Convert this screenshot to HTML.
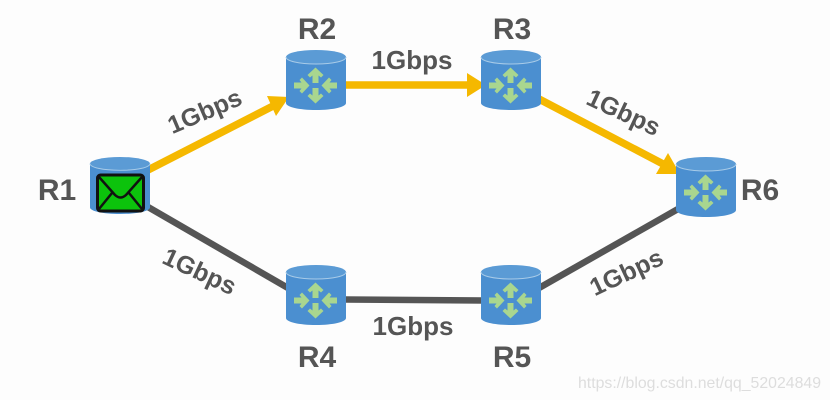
<!DOCTYPE html>
<html><head><meta charset="utf-8"><style>
html,body{margin:0;padding:0;background:#fdfdfd}
svg{display:block}
text{font-family:"Liberation Sans",sans-serif;font-weight:bold;fill:#555}
.l{font-size:26px}
.r{font-size:25px}
.n{font-size:30px}
</style></head><body>
<svg width="830" height="400" viewBox="0 0 830 400" xmlns="http://www.w3.org/2000/svg">
<defs>
<g id="ar"><path d="M-3 0V-7.500L-5.500-5.500-8-8 0-15.500 8-8 5.500-5.500 3-7.500V0Z" fill="#a9d68f"/></g>
<g id="r">
<path d="M0 7V53C0 57 13 60 30 60S60 57 60 53V7Z" fill="#4b8fd0"/>
<ellipse cx="30" cy="7" rx="30" ry="7" fill="#5b9bd5"/>
<path d="M0 7C0 11 13 14 30 14S60 11 60 7" fill="none" stroke="#a8cbe8" stroke-width="1"/>
<use href="#ar" transform="translate(29.500 33)"/>
<use href="#ar" transform="translate(29.500 38) rotate(180)"/>
<use href="#ar" transform="translate(8 35.500) rotate(90)"/>
<use href="#ar" transform="translate(51 35.500) rotate(-90)"/>
</g>
</defs>
<rect width="830" height="400" fill="#fdfdfd"/>
<g stroke="#555" stroke-width="6.500" fill="none">
<path d="M148 207L288 288"/><path d="M345 299.500L483 300.500"/><path d="M539 288L678 209"/>
</g>
<g stroke="#f5b800" stroke-width="7.500" fill="none">
<path d="M148 170L275 105"/><path d="M344 85L470 85"/><path d="M539 99L665 165"/>
</g>
<g fill="#f5b800">
<path d="M289 97L267 96 276 116Z"/><path d="M486 85L467 73V97Z"/><path d="M680 174L668 153 656 174Z"/>
</g>
<use href="#r" transform="translate(90 157) scale(1 .95)"/>
<use href="#r" x="286" y="50"/>
<use href="#r" x="481" y="50"/>
<use href="#r" x="676" y="157"/>
<use href="#r" x="286" y="265"/>
<use href="#r" x="481" y="265"/>
<rect x="97.500" y="175" width="46" height="36" rx="3" fill="#0cc30c" stroke="#111" stroke-width="3"/>
<path d="M99 177L115 195Q120.500 200 126 195L142 177M99 209L112 193M142 209L129 193" fill="none" stroke="#111" stroke-width="2.500"/>
<text class="n" x="317" y="39" text-anchor="middle">R2</text>
<text class="n" x="512" y="39" text-anchor="middle">R3</text>
<text class="n" x="57" y="200" text-anchor="middle">R1</text>
<text class="n" x="760" y="200" text-anchor="middle">R6</text>
<text class="n" x="317" y="367" text-anchor="middle">R4</text>
<text class="n" x="512" y="367" text-anchor="middle">R5</text>
<text class="l" x="412" y="69" text-anchor="middle">1Gbps</text>
<text class="l" x="413" y="335" text-anchor="middle">1Gbps</text>
<text class="r" transform="translate(208 119) rotate(-23)" text-anchor="middle">1Gbps</text>
<text class="r" transform="translate(620 120) rotate(25)" text-anchor="middle">1Gbps</text>
<text class="r" transform="translate(196 279) rotate(25)" text-anchor="middle">1Gbps</text>
<text class="r" transform="translate(630 280) rotate(-25)" text-anchor="middle">1Gbps</text>
<text x="578" y="388" textLength="243" lengthAdjust="spacingAndGlyphs" style="font-weight:normal;font-size:16px;fill:#ddd">https://blog.csdn.net/qq_52024849</text>
</svg>
</body></html>
